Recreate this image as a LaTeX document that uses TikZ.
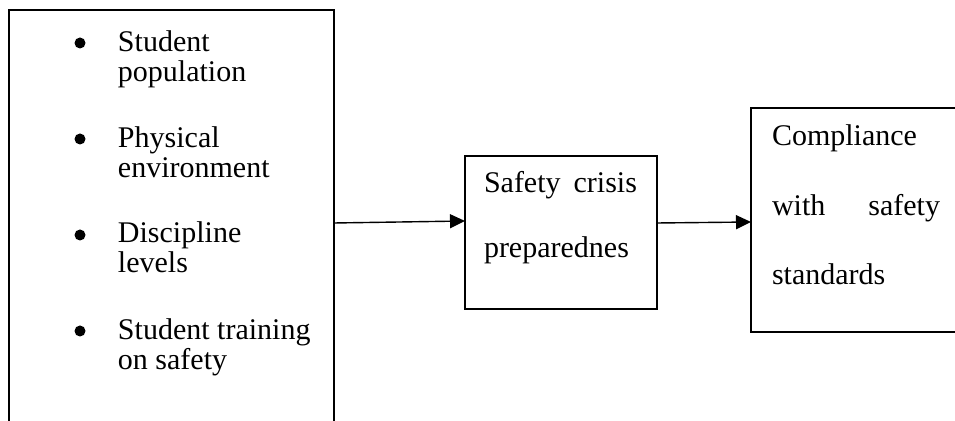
\documentclass[tikz,border=0pt]{standalone}
\usepackage{fontspec}
\setmainfont{Liberation Serif}
\usetikzlibrary{arrows.meta}
\newcommand*\boxrule{0.7pt}
\newcommand*\txtsize{15}
\tikzset{
    box/.style   = {draw, line width=\boxrule, inner sep=0pt, outer sep=0pt},
    txt/.style   = {anchor=base west, inner sep=0pt, outer sep=0pt,
                    font=\fontsize{\txtsize}{\txtsize}\selectfont},
    dot/.style   = {circle, fill=black, minimum size=5.5pt, inner sep=0pt},
    link/.style  = {line width=\boxrule, -{Triangle[length=7.5pt,width=7pt]}},
  }
\begin{document}
\begin{tikzpicture}[x=0.5pt, y=-0.5pt]
    % picture area, in pixels of the original figure
    \clip (0,0) rectangle (955,421);

    % the three boxes
    \node[box, minimum width=162.5pt, minimum height=213pt] (factors) at (171.5,223) {};
    \node[box, minimum width=96pt, minimum height=76.5pt] (crisis) at (561,232.5) {};
    \node[box, minimum width=124.5pt, minimum height=112pt] (comply) at (875.5,220) {};

    % bullets of the left box
    \foreach \y [count=\i from 1] in {43,139,235,331} {
        \node[dot] (dot\i) at (80,\y) {};
    }

    % text lines of the left box
    \foreach \t/\y [count=\i from 1] in {Student/52, population/82,
            Physical/148, environment/178, Discipline/243, levels/273,
            Student training/340, on safety/370} {
        \node[txt] (line\i) at (118,\y) {\t};
    }

    % middle box
    \node[txt] (crisis1) at (484,193) {\makebox[76.5pt][s]{Safety crisis}};
    \node[txt] (crisis2) at (484,258) {preparednes};

    % right box
    \node[txt] (comply1) at (772,146) {Compliance};
    \node[txt] (comply2) at (772,216) {\makebox[84pt][s]{with safety}};
    \node[txt] (comply3) at (772,285) {standards};

    % arrows
    \draw[link] (factors.east) -- ([yshift=5.75pt]crisis.west);
    \draw[link] ([yshift=4.75pt]crisis.east) -- ([yshift=-1pt]comply.west);
\end{tikzpicture}
\end{document}
